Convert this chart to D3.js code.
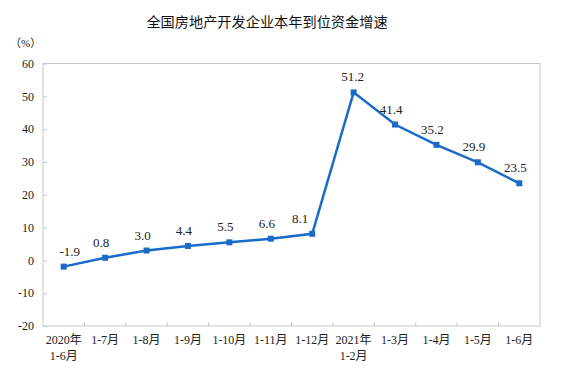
<!DOCTYPE html>
<html>
<head>
<meta charset="utf-8">
<script src="https://cdn.jsdelivr.net/npm/d3@7"></script>
<style>
  body { margin: 0; background: #fff; }
</style>
</head>
<body>
<div id="chart"></div>
<script>
// data
const categories = ["2020年\n1-6月", "1-7月", "1-8月", "1-9月", "1-10月", "1-11月", "1-12月",
                    "2021年\n1-2月", "1-3月", "1-4月", "1-5月", "1-6月"];
const values = [-1.9, 0.8, 3.0, 4.4, 5.5, 6.6, 8.1, 51.2, 41.4, 35.2, 29.9, 23.5];
const yTicks = [-20, -10, 0, 10, 20, 30, 40, 50, 60];

const width = 571, height = 372;
const margin = {top: 63.5, right: 31, bottom: 46, left: 43};
const serif = "'Liberation Serif', 'Times New Roman', 'Noto Sans CJK SC', serif";

const svg = d3.select('#chart')
    .append('svg')
    .attr('width', width)
    .attr('height', height)
    .style('background-color', '#fff');

const x = d3.scaleBand()
    .domain(categories)
    .range([margin.left, width - margin.right]);
const y = d3.scaleLinear()
    .domain([-20, 60])
    .range([height - margin.bottom, margin.top]);

// title
svg.append('text')
    .attr('x', 267)
    .attr('y', 27)
    .attr('text-anchor', 'middle')
    .attr('font-family', "'Noto Sans CJK SC', sans-serif")
    .attr('font-size', 14.2)
    .attr('fill', '#111')
    .text('全国房地产开发企业本年到位资金增速');

// unit
svg.append('text')
    .attr('x', 10)
    .attr('y', 47)
    .attr('font-family', serif)
    .attr('font-size', 11)
    .attr('fill', '#222')
    .text('（%）');

// frame
svg.append('rect')
    .attr('x', margin.left)
    .attr('y', margin.top)
    .attr('width', width - margin.left - margin.right)
    .attr('height', height - margin.top - margin.bottom)
    .attr('fill', 'none')
    .attr('stroke', '#c8c8c8')
    .attr('stroke-width', 1);

// y axis
const yAxis = svg.append('g')
    .attr('transform', `translate(${margin.left},0)`)
    .call(d3.axisRight(y).tickValues(yTicks).tickSize(4).tickFormat(''));
yAxis.select('.domain').remove();
yAxis.selectAll('line').attr('stroke', '#c8c8c8');
svg.append('g')
    .selectAll('text')
    .data(yTicks)
    .enter()
    .append('text')
    .attr('x', margin.left - 9)
    .attr('y', d => y(d))
    .attr('dy', '0.35em')
    .attr('text-anchor', 'end')
    .attr('font-family', serif)
    .attr('font-size', 12)
    .attr('fill', '#222')
    .text(d => d);

// x axis ticks at band boundaries
const bounds = categories.slice(1).map(c => x(c));
svg.append('g')
    .selectAll('line')
    .data(bounds)
    .enter()
    .append('line')
    .attr('x1', d => d)
    .attr('x2', d => d)
    .attr('y1', y(-20))
    .attr('y2', y(-20) - 4)
    .attr('stroke', '#c8c8c8');

// x labels
const xl = svg.append('g')
    .selectAll('text')
    .data(categories)
    .enter()
    .append('text')
    .attr('x', d => x(d) + x.bandwidth() / 2)
    .attr('y', y(-20) + 18)
    .attr('text-anchor', 'middle')
    .attr('font-family', serif)
    .attr('font-size', 12)
    .attr('fill', '#222');
xl.each(function(d) {
    const lines = d.split('\n');
    d3.select(this).selectAll('tspan')
        .data(lines)
        .enter()
        .append('tspan')
        .attr('x', x(d) + x.bandwidth() / 2)
        .attr('dy', (l, i) => i === 0 ? 0 : 16)
        .text(l => l);
});

// line
const pts = categories.map((c, i) => ({c: c, v: values[i], i: i}));
const line = d3.line()
    .x(d => x(d.c) + x.bandwidth() / 2)
    .y(d => y(d.v));
svg.append('path')
    .datum(pts)
    .attr('d', line)
    .attr('fill', 'none')
    .attr('stroke', '#1a6ac9')
    .attr('stroke-width', 2.5);

svg.append('g')
    .selectAll('rect')
    .data(pts)
    .enter()
    .append('rect')
    .attr('x', d => x(d.c) + x.bandwidth() / 2 - 3)
    .attr('y', d => y(d.v) - 3)
    .attr('width', 6)
    .attr('height', 6)
    .attr('fill', '#1a6ac9');

// value labels: shifted a bit left; the one before the jump sits clear of the line
const dxFor = d => d.v < 0 ? 6 : (d.i === 6 ? -12 : (d.i === 7 ? -1 : -4));
svg.append('g')
    .selectAll('text')
    .data(pts)
    .enter()
    .append('text')
    .attr('x', d => x(d.c) + x.bandwidth() / 2 + dxFor(d))
    .attr('y', d => y(d.v) - 11)
    .attr('text-anchor', 'middle')
    .attr('font-family', serif)
    .attr('font-size', 13)
    .attr('fill', '#222')
    .text(d => d.v.toFixed(1));
</script>
</body>
</html>
